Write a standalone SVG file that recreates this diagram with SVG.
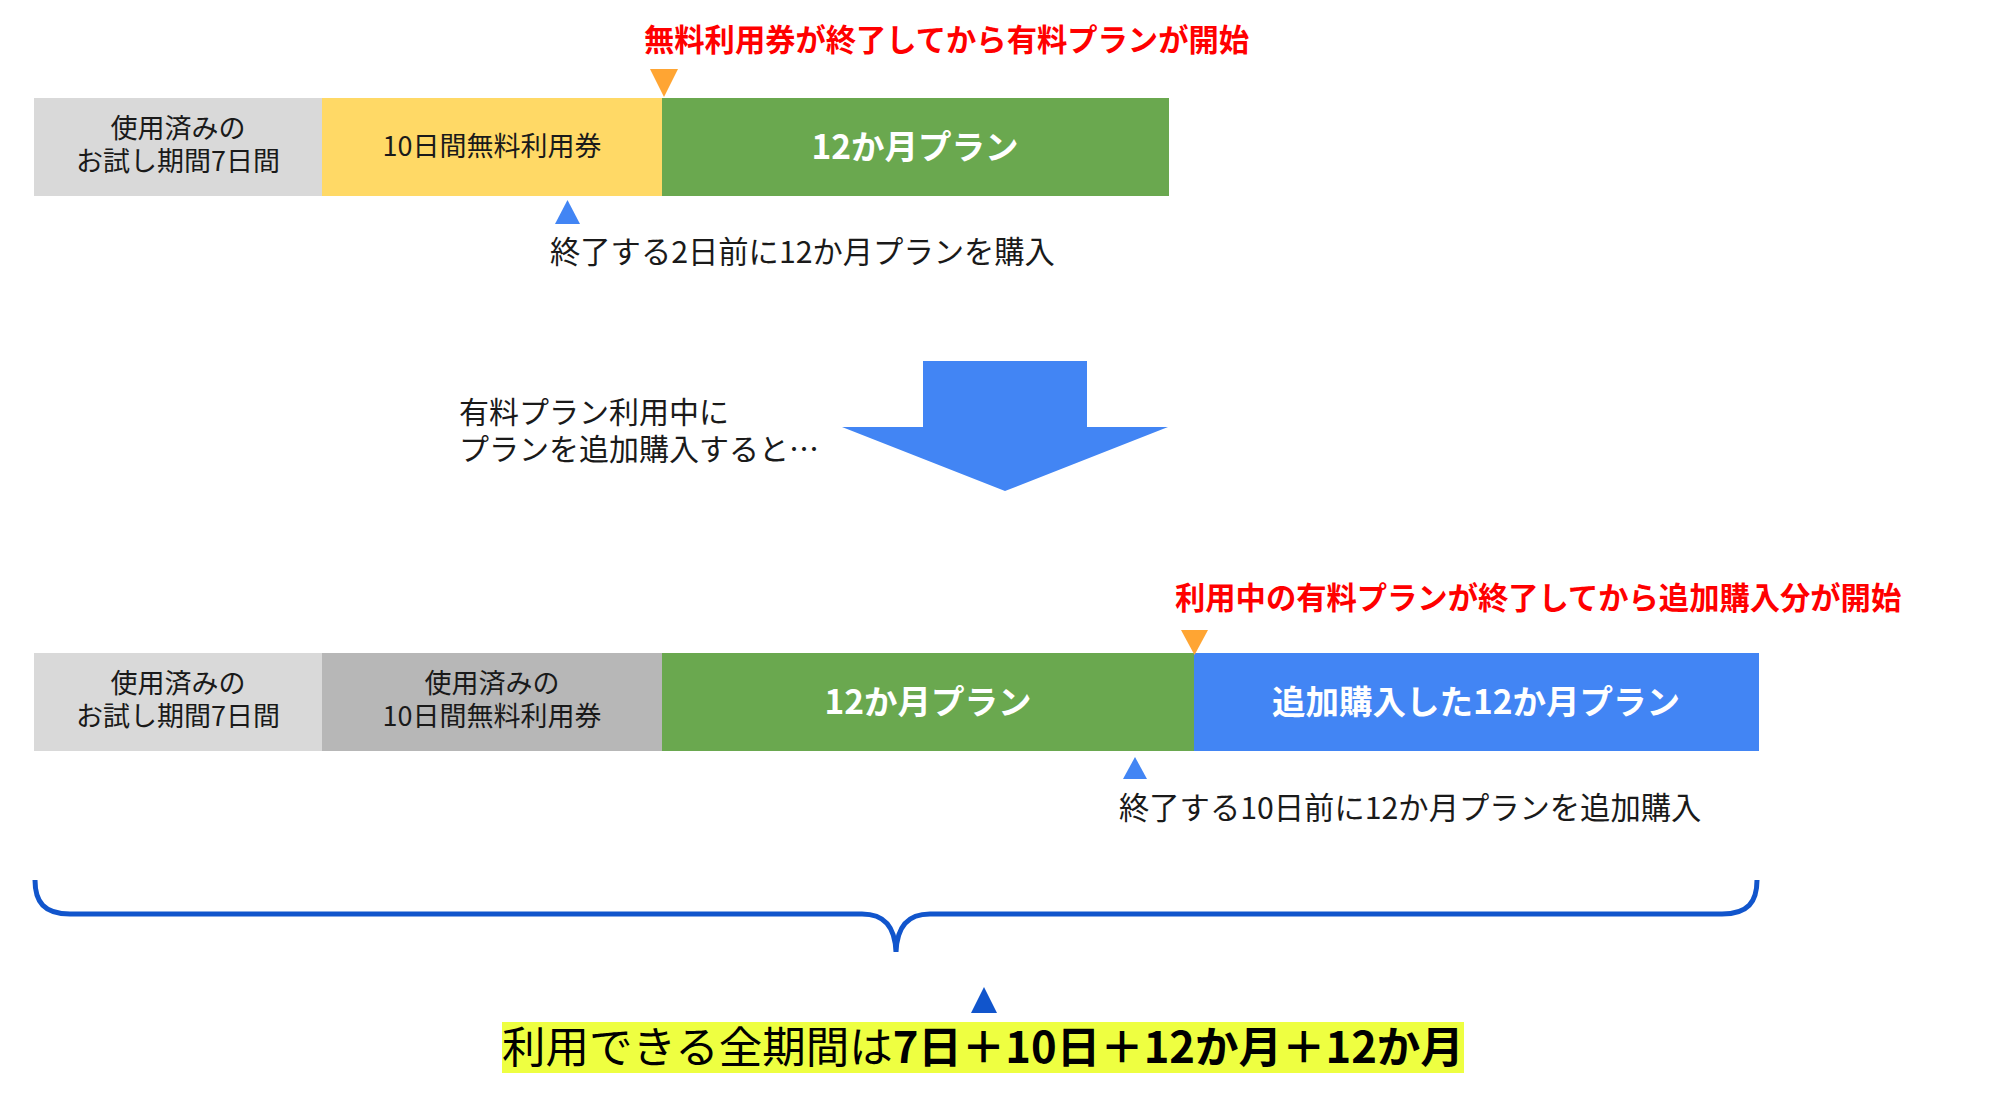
<svg xmlns="http://www.w3.org/2000/svg" width="2016" height="1120" viewBox="0 0 2016 1120">
<style>
text{font-family:"Noto Sans CJK JP","Noto Sans",sans-serif}
.box{font-size:27px;fill:#1a1a1a;text-anchor:middle}
.plan{font-size:33.5px;font-weight:bold;fill:#ffffff;text-anchor:middle}
.red{font-size:30.3px;font-weight:bold;fill:#ff0000}
.note{font-size:30.3px;fill:#1a1a1a}
.mid{font-size:30px;fill:#1a1a1a}
.tri-o{fill:#ffa533}
.tri-b{fill:#4285f4}
</style>
<rect width="2016" height="1120" fill="#ffffff"/>

<g id="top-used-trial">
<rect x="34" y="98" width="288" height="98" fill="#d9d9d9"/>
<text class="box" x="178" y="138">使用済みの</text>
<text class="box" x="178" y="171">お試し期間7日間</text>
</g>
<g id="top-free-ticket">
<rect x="322" y="98" width="340" height="98" fill="#ffd966"/>
<text class="box" x="492" y="156">10日間無料利用券</text>
</g>
<g id="top-12m">
<rect x="662" y="98" width="507" height="98" fill="#6aa84f"/>
<text class="plan" x="915" y="159">12か月プラン</text>
</g>
<g id="top-start-label">
<polygon class="tri-o" points="650,69 678,69 664,97"/>
<text class="red" x="644" y="51">無料利用券が終了してから有料プランが開始</text>
</g>
<g id="top-purchase-label">
<polygon class="tri-b" points="555,224 580,224 567.5,200"/>
<text class="note" x="550" y="263">終了する2日前に12か月プランを購入</text>
</g>

<g id="transition">
<polygon fill="#4285f4" points="923,361 1087,361 1087,427 1168,427 1005,491 842,427 923,427"/>
<text class="mid" x="459" y="423">有料プラン利用中に</text>
<text class="mid" x="459" y="460">プランを追加購入すると…</text>
</g>

<g id="bottom-used-trial">
<rect x="34" y="653" width="288" height="98" fill="#d9d9d9"/>
<text class="box" x="178" y="693">使用済みの</text>
<text class="box" x="178" y="726">お試し期間7日間</text>
</g>
<g id="bottom-used-ticket">
<rect x="322" y="653" width="340" height="98" fill="#b7b7b7"/>
<text class="box" x="492" y="693">使用済みの</text>
<text class="box" x="492" y="726">10日間無料利用券</text>
</g>
<g id="bottom-12m">
<rect x="662" y="653" width="532" height="98" fill="#6aa84f"/>
<text class="plan" x="928" y="714">12か月プラン</text>
</g>
<g id="bottom-added-12m">
<rect x="1194" y="653" width="565" height="98" fill="#4285f4"/>
<text class="plan" x="1476" y="714">追加購入した12か月プラン</text>
</g>
<g id="bottom-start-label">
<polygon class="tri-o" points="1181,630 1208,630 1194.5,655"/>
<text class="red" x="1175" y="609">利用中の有料プランが終了してから追加購入分が開始</text>
</g>
<g id="bottom-purchase-label">
<polygon class="tri-b" points="1123,779 1147,779 1135,757"/>
<text class="note" x="1119" y="819">終了する10日前に12か月プランを追加購入</text>
</g>

<g id="connectors">
<path d="M35,880 C35,902 44,914 70,914 L862,914 C884,914 895,926 896,952 C897,926 908,914 930,914 L1722,914 C1748,914 1757,902 1757,880" fill="none" stroke="#1155cc" stroke-width="5"/>
</g>

<g id="total">
<polygon fill="#1155cc" points="971,1013 997,1013 984,987"/>
<rect x="502" y="1022" width="962" height="51" fill="#eeff41"/>
<text x="502" y="1063" font-size="43.5" fill="#000000">利用できる全期間は<tspan font-weight="bold">7日＋10日＋12か月＋12か月</tspan></text>
</g>
</svg>
